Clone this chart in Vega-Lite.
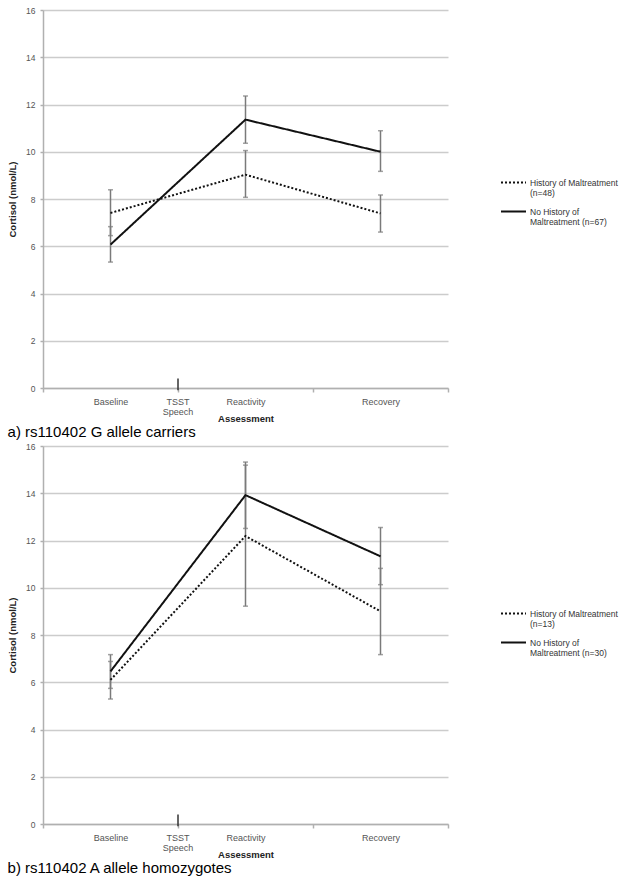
{
  "$schema": "https://vega.github.io/schema/vega-lite/v6.json",
  "padding": {"left": 7, "top": 6, "right": 5, "bottom": 5},
  "background": "white",
  "config": {
    "font": "Liberation Sans",
    "view": {"stroke": null},
    "axis": {
      "labelFont": "Liberation Sans",
      "titleFont": "Liberation Sans",
      "labelColor": "#555555",
      "titleColor": "#222222",
      "titleFontWeight": "bold",
      "titleFontSize": 9.5,
      "domainColor": "#b0b0b0",
      "domainWidth": 1.5,
      "tickColor": "#b0b0b0",
      "tickWidth": 1.5,
      "gridColor": "#cccccc",
      "gridWidth": 1.5
    },
    "legend": {
      "labelFont": "Liberation Sans",
      "labelFontSize": 8.5,
      "labelColor": "#333333"
    }
  },
  "datasets": {
    "a": [
      {"assessment": "Baseline", "group": "History of Maltreatment|(n=48)", "mean": 7.41, "lo": 6.45, "hi": 8.39},
      {"assessment": "Reactivity", "group": "History of Maltreatment|(n=48)", "mean": 9.03, "lo": 8.07, "hi": 10.05},
      {"assessment": "Recovery", "group": "History of Maltreatment|(n=48)", "mean": 7.39, "lo": 6.6, "hi": 8.17},
      {"assessment": "Baseline", "group": "No History of|Maltreatment (n=67)", "mean": 6.07, "lo": 5.33, "hi": 6.83},
      {"assessment": "Reactivity", "group": "No History of|Maltreatment (n=67)", "mean": 11.36, "lo": 10.36, "hi": 12.36},
      {"assessment": "Recovery", "group": "No History of|Maltreatment (n=67)", "mean": 10.0, "lo": 9.17, "hi": 10.89}
    ],
    "b": [
      {"assessment": "Baseline", "group": "History of Maltreatment|(n=13)", "mean": 6.1, "lo": 5.29, "hi": 6.88},
      {"assessment": "Reactivity", "group": "History of Maltreatment|(n=13)", "mean": 12.19, "lo": 9.22, "hi": 15.19},
      {"assessment": "Recovery", "group": "History of Maltreatment|(n=13)", "mean": 9.0, "lo": 7.17, "hi": 10.82},
      {"assessment": "Baseline", "group": "No History of|Maltreatment (n=30)", "mean": 6.46, "lo": 5.74, "hi": 7.17},
      {"assessment": "Reactivity", "group": "No History of|Maltreatment (n=30)", "mean": 13.92, "lo": 12.51, "hi": 15.32},
      {"assessment": "Recovery", "group": "No History of|Maltreatment (n=30)", "mean": 11.33, "lo": 10.13, "hi": 12.55}
    ],
    "speech": [
      {"assessment": "Reactivity", "label": "TSST Speech", "top": 0.4, "bottom": -0.1}
    ]
  },
  "spacing": 2,
  "resolve": {"scale": {"strokeDash": "independent"}, "legend": {"strokeDash": "independent"}},
  "vconcat": [
    {
      "width": 405,
      "height": 378,
      "title": {"text": "a) rs110402 G allele carriers", "orient": "bottom", "anchor": "start", "frame": "bounds", "fontSize": 15, "fontWeight": "normal", "font": "Liberation Sans", "color": "#000000", "offset": 2},
      "encoding": {
        "x": {
          "field": "assessment", "type": "nominal", "bandPosition": 0.5,
          "sort": ["Baseline", "Reactivity", "Recovery"],
          "scale": {"type": "band", "domain": ["Baseline", "Reactivity", "Recovery"], "paddingInner": 0, "paddingOuter": 0},
          "axis": {"title": "Assessment", "labelAngle": 0, "labelFontSize": 9, "tickBand": "extent", "tickSize": 4, "labelPadding": 5, "titlePadding": 7, "grid": false}
        }
      },
      "layer": [
        {
          "data": {"name": "a"},
          "mark": {"type": "rule", "color": "#7a7a7a", "strokeWidth": 1.5},
          "encoding": {
            "y": {"field": "lo", "type": "quantitative", "scale": {"domain": [0, 16]}, "title": "Cortisol (nmol/L)",
              "axis": {"values": [0, 2, 4, 6, 8, 10, 12, 14, 16], "labelFontSize": 8.5, "tickSize": 3, "labelPadding": 5, "titlePadding": 8, "grid": true}},
            "y2": {"field": "hi"}
          }
        },
        {
          "data": {"name": "a"},
          "mark": {"type": "tick", "color": "#7a7a7a", "thickness": 1.5, "size": 5, "orient": "horizontal"},
          "encoding": {"y": {"field": "lo", "type": "quantitative", "title": "Cortisol (nmol/L)"}}
        },
        {
          "data": {"name": "a"},
          "mark": {"type": "tick", "color": "#7a7a7a", "thickness": 1.5, "size": 5, "orient": "horizontal"},
          "encoding": {"y": {"field": "hi", "type": "quantitative", "title": "Cortisol (nmol/L)"}}
        },
        {
          "data": {"name": "a"},
          "mark": {"type": "line", "color": "#111111", "strokeWidth": 2},
          "encoding": {
            "y": {"field": "mean", "type": "quantitative", "title": "Cortisol (nmol/L)"},
            "strokeDash": {
              "field": "group", "type": "nominal",
              "scale": {"range": [[2, 2], [1, 0]]},
              "legend": {"title": null, "orient": "none", "legendX": 457, "legendY": 159, "symbolType": "stroke", "symbolSize": 625, "symbolStrokeColor": "#111111", "symbolStrokeWidth": 2, "labelExpr": "split(datum.label, '|')", "labelLimit": 200, "labelOffset": 3, "rowPadding": 0, "labelBaseline": "middle"}
            }
          }
        },
        {
          "data": {"name": "speech"},
          "mark": {"type": "rule", "color": "#333333", "strokeWidth": 1.5},
          "encoding": {
            "x": {"field": "assessment", "type": "nominal", "bandPosition": 0},
            "y": {"field": "top", "type": "quantitative", "title": "Cortisol (nmol/L)"},
            "y2": {"field": "bottom"}
          }
        },
        {
          "data": {"name": "speech"},
          "mark": {"type": "text", "fontSize": 9, "color": "#555555", "baseline": "top", "lineBreak": " ", "dy": 10, "lineHeight": 10},
          "encoding": {
            "x": {"field": "assessment", "type": "nominal", "bandPosition": 0},
            "y": {"datum": 0, "type": "quantitative"},
            "text": {"field": "label"}
          }
        }
      ]
    },
    {
      "width": 405,
      "height": 378,
      "title": {"text": "b) rs110402 A allele homozygotes", "orient": "bottom", "anchor": "start", "frame": "bounds", "fontSize": 15, "fontWeight": "normal", "font": "Liberation Sans", "color": "#000000", "offset": 2},
      "encoding": {
        "x": {
          "field": "assessment", "type": "nominal", "bandPosition": 0.5,
          "sort": ["Baseline", "Reactivity", "Recovery"],
          "scale": {"type": "band", "domain": ["Baseline", "Reactivity", "Recovery"], "paddingInner": 0, "paddingOuter": 0},
          "axis": {"title": "Assessment", "labelAngle": 0, "labelFontSize": 9, "tickBand": "extent", "tickSize": 4, "labelPadding": 5, "titlePadding": 7, "grid": false}
        }
      },
      "layer": [
        {
          "data": {"name": "b"},
          "mark": {"type": "rule", "color": "#7a7a7a", "strokeWidth": 1.5},
          "encoding": {
            "y": {"field": "lo", "type": "quantitative", "scale": {"domain": [0, 16]}, "title": "Cortisol (nmol/L)",
              "axis": {"values": [0, 2, 4, 6, 8, 10, 12, 14, 16], "labelFontSize": 8.5, "tickSize": 3, "labelPadding": 5, "titlePadding": 8, "grid": true}},
            "y2": {"field": "hi"}
          }
        },
        {
          "data": {"name": "b"},
          "mark": {"type": "tick", "color": "#7a7a7a", "thickness": 1.5, "size": 5, "orient": "horizontal"},
          "encoding": {"y": {"field": "lo", "type": "quantitative", "title": "Cortisol (nmol/L)"}}
        },
        {
          "data": {"name": "b"},
          "mark": {"type": "tick", "color": "#7a7a7a", "thickness": 1.5, "size": 5, "orient": "horizontal"},
          "encoding": {"y": {"field": "hi", "type": "quantitative", "title": "Cortisol (nmol/L)"}}
        },
        {
          "data": {"name": "b"},
          "mark": {"type": "line", "color": "#111111", "strokeWidth": 2},
          "encoding": {
            "y": {"field": "mean", "type": "quantitative", "title": "Cortisol (nmol/L)"},
            "strokeDash": {
              "field": "group", "type": "nominal",
              "scale": {"range": [[2, 2], [1, 0]]},
              "legend": {"title": null, "orient": "none", "legendX": 457, "legendY": 154, "symbolType": "stroke", "symbolSize": 625, "symbolStrokeColor": "#111111", "symbolStrokeWidth": 2, "labelExpr": "split(datum.label, '|')", "labelLimit": 200, "labelOffset": 3, "rowPadding": 0, "labelBaseline": "middle"}
            }
          }
        },
        {
          "data": {"name": "speech"},
          "mark": {"type": "rule", "color": "#333333", "strokeWidth": 1.5},
          "encoding": {
            "x": {"field": "assessment", "type": "nominal", "bandPosition": 0},
            "y": {"field": "top", "type": "quantitative", "title": "Cortisol (nmol/L)"},
            "y2": {"field": "bottom"}
          }
        },
        {
          "data": {"name": "speech"},
          "mark": {"type": "text", "fontSize": 9, "color": "#555555", "baseline": "top", "lineBreak": " ", "dy": 10, "lineHeight": 10},
          "encoding": {
            "x": {"field": "assessment", "type": "nominal", "bandPosition": 0},
            "y": {"datum": 0, "type": "quantitative"},
            "text": {"field": "label"}
          }
        }
      ]
    }
  ]
}
